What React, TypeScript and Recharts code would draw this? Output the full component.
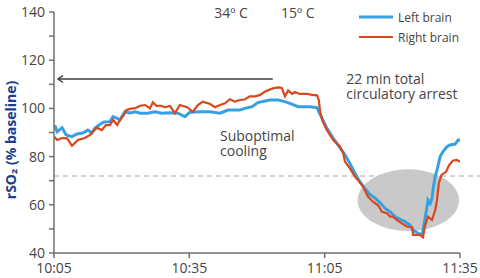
import React from 'react';
import { LineChart, Line, XAxis, YAxis, ReferenceLine, ReferenceArea, ReferenceDot, Legend } from 'recharts';

// minutes after 10:05
const xTickValues = [0, 30, 60, 90];
const xTickLabels = ['10:05', '10:35', '11:05', '11:35'];
const yTickValues = [40, 50, 60, 70, 80, 90, 100, 110, 120, 130, 140];
const yLabeledTicks = [40, 60, 80, 100, 120, 140];

const leftTimes = [
  0.2, 0.7, 1.8, 2.7, 4.0, 5.1, 6.4, 7.5, 8.4, 9.1, 10.2, 11.1, 12.4, 13.1, 14.0, 14.6, 15.7, 16.8, 18.0, 19.1,
  20.8, 22.4, 23.9, 25.7, 27.5, 29.0, 30.1, 32.4, 34.6, 36.8, 38.6, 41.2, 42.3, 43.9, 45.2, 46.8, 47.9, 49.7,
  51.2, 52.3, 54.1, 56.8, 58.3, 59.4, 60.5, 61.9, 63.4, 64.5, 65.6, 66.7, 67.8, 68.9, 70.1, 71.2, 72.3, 73.4,
  74.5, 75.6, 76.7, 77.8, 78.9, 79.6, 80.7, 81.6, 82.2, 82.7, 82.9, 83.4, 83.8, 84.0, 84.5, 84.9, 85.6, 86.2,
  87.1, 87.8, 88.9, 89.6, 90.0,
];
const leftValues = [
  93, 90.3, 92, 89, 88.3, 89.4, 89.8, 91, 89.8, 91.9, 93.4, 94.4, 94.5, 96.6, 95.9, 95.2, 98.6, 98.1, 98.6, 98,
  98, 98.6, 98, 98.2, 98, 96.6, 98.4, 98.6, 98.6, 98, 99.3, 99.3, 100, 100.7, 102.4, 103.1, 103.5, 103.5,
  102.8, 102.1, 100.7, 100.7, 100.3, 95.9, 91.7, 87.6, 83.7, 80.7, 77.2, 73.1, 69.6, 66.8, 64.2, 62.8, 60.8, 58.5,
  57.1, 55.1, 54, 53, 51.6, 49.5, 48.2, 47.5, 53.7, 59.2, 62, 60.6, 62.7, 66.1, 71.7, 74.4, 80, 82,
  84.1, 84.8, 85.2, 86.9, 86.9,
];

const rightTimes = [
  0, 0.7, 1.8, 2.9, 4.0, 5.3, 6.7, 8.0, 8.6, 9.5, 10.6, 11.5, 12.4, 13.1, 14.0, 14.4, 15.5, 16.0, 16.8, 18.0,
  19.1, 20.2, 21.3, 21.9, 22.8, 23.5, 24.6, 25.7, 26.8, 27.9, 29.5, 30.8, 31.9, 33.0, 34.6, 35.7, 36.8, 37.9,
  39.0, 40.1, 41.2, 42.3, 43.4, 44.6, 45.7, 46.8, 48.5, 49.7, 50.5, 51.2, 51.9, 52.8, 53.4, 54.5, 56.1, 57.2,
  58.3, 58.7, 59.0, 59.6, 60.5, 61.9, 63.4, 64.1, 64.5, 65.6, 66.7, 67.8, 68.5, 69.6, 70.7, 71.8, 72.7, 73.8,
  74.5, 75.1, 76.0, 77.1, 78.3, 79.4, 79.6, 81.1, 81.8, 82.2, 82.9, 83.8, 84.5, 84.9, 85.3, 85.9, 86.9, 87.6,
  88.4, 89.3, 90.0,
];
const rightValues = [
  88.3, 86.9, 87.7, 87.6, 84.5, 86.9, 87.6, 89, 90.3, 92, 91, 93.1, 93.1, 95.2, 93.1, 94.5, 97.3, 99.3, 99.8, 100.1,
  101.1, 101.4, 100, 102.5, 101, 101.2, 100.5, 101, 98, 101.4, 100.5, 98.6, 101.4, 102.8, 101.8, 100.5, 101.4, 102.1,
  103.8, 102.8, 103.5, 103.7, 105, 105, 105.6, 107, 108.3, 108.7, 108.5, 105, 107.4, 106, 106.8, 106, 106, 105.6,
  105.4, 103.5, 98.6, 94.5, 91, 86.9, 84.1, 81.4, 77.9, 75.1, 71.7, 69.3, 67.5, 63.4, 61.3, 59.9, 57.1, 56.5,
  55.1, 55.1, 53.7, 52.3, 50.9, 50.7, 47.5, 47.5, 46.5, 50.9, 55.1, 53.7, 57.8, 62, 68.9, 72.4, 73.7, 76.5,
  78.3, 78.6, 77.9,
];

const seriesNames = ['Left brain', 'Right brain'];
const seriesColors = ['#38a0e0', '#d9471d'];

const thresholdLevel = 72;
const arrowLevel = 112.2;
const arrowStart = 48.5;
const arrowEnd = 0.9;
const arrestZone = { t1: 67.3, t2: 89.8, v1: 49.1, v2: 74.7 };

// one entry per text line, anchored at its start / baseline in data units
const annotations = [
  { t: 35.5, v: 137.4, text: '34º C' },
  { t: 50.3, v: 137.4, text: '15º C' },
  { t: 64.8, v: 110, text: '22 min total' },
  { t: 64.8, v: 104, text: 'circulatory arrest' },
  { t: 36.8, v: 86.3, text: 'Suboptimal' },
  { t: 36.8, v: 80.4, text: 'cooling' },
];

const leftData = leftTimes.map((t, i) => ({ t, v: leftValues[i] }));
const rightData = rightTimes.map((t, i) => ({ t, v: rightValues[i] }));

const FONT = '"Open Sans", sans-serif';
const axisColor = '#707070';
const textColor = '#454545';

const LegendBox = () => (
  <div style={{ fontFamily: FONT, fontSize: 12, color: textColor }}>
    {seriesNames.map((name, i) => (
      <div key={name} style={{ display: 'flex', alignItems: 'center', height: 20 }}>
        <svg width={34} height={6} style={{ marginRight: 5 }}>
          <line x1={0} y1={3} x2={34} y2={3} stroke={seriesColors[i]} strokeWidth={i === 0 ? 3 : 2.2} />
        </svg>
        <span>{name}</span>
      </div>
    ))}
  </div>
);

const YLabel = (props: any) => {
  const vb = props.viewBox || { x: 0, y: 12, width: 54, height: 241 };
  const x = vb.x + 16;
  const y = vb.y + vb.height / 2 + 7.5;
  return (
    <text
      x={x}
      y={y}
      transform={`rotate(-90, ${x}, ${y})`}
      textAnchor="middle"
      fill="#1b3f8c"
      fontWeight="bold"
      fontSize={14}
      fontFamily={FONT}
    >
      rSO₂ (% baseline)
    </text>
  );
};

export default function App() {
  return (
    <div style={{ position: 'absolute', left: 0, top: 0, fontFamily: FONT }}>
      <LineChart width={480} height={278} margin={{ top: 12, right: 20, bottom: 0, left: 0 }}>
        <ReferenceArea
          x1={arrestZone.t1}
          x2={arrestZone.t2}
          y1={arrestZone.v1}
          y2={arrestZone.v2}
          ifOverflow="visible"
          shape={(p: any) => (
            <ellipse
              cx={p.x + p.width / 2}
              cy={p.y + p.height / 2}
              rx={Math.abs(p.width) / 2}
              ry={Math.abs(p.height) / 2}
              fill="#c9c9c9"
            />
          )}
        />
        <XAxis
          type="number"
          dataKey="t"
          domain={[0, 90]}
          ticks={xTickValues}
          tickFormatter={(v: number) => xTickLabels[xTickValues.indexOf(v)] ?? ''}
          allowDataOverflow
          height={25}
          tickSize={5}
          tickMargin={5}
          stroke={axisColor}
          strokeWidth={1.5}
          tick={{ fill: textColor, fontSize: 14, fontFamily: FONT }}
        />
        <YAxis
          type="number"
          domain={[40, 140]}
          ticks={yTickValues}
          tickFormatter={(v: number) => (yLabeledTicks.includes(v) ? String(v) : '')}
          width={54}
          tickSize={5}
          tickMargin={4}
          stroke={axisColor}
          strokeWidth={1.5}
          tick={{ fill: textColor, fontSize: 14, fontFamily: FONT }}
          label={<YLabel />}
        />
        <ReferenceLine
          segment={[{ x: 0, y: thresholdLevel }, { x: 94.5, y: thresholdLevel }]}
          ifOverflow="visible"
          stroke="#c4c4c4"
          strokeWidth={1.5}
          strokeDasharray="5 4"
        />
        <ReferenceLine
          segment={[{ x: arrowStart, y: arrowLevel }, { x: arrowEnd, y: arrowLevel }]}
          ifOverflow="visible"
          shape={(p: any) => (
            <g stroke="#3c3c3c" strokeWidth={1.5} fill="none">
              <line x1={p.x1} y1={p.y1} x2={p.x2} y2={p.y2} />
              <polyline points={`${p.x2 + 5},${p.y2 - 3.5} ${p.x2},${p.y2} ${p.x2 + 5},${p.y2 + 3.5}`} />
            </g>
          )}
        />
        <Line
          data={leftData}
          dataKey="v"
          name={seriesNames[0]}
          type="linear"
          stroke={seriesColors[0]}
          strokeWidth={3}
          dot={false}
          isAnimationActive={false}
        />
        <Line
          data={rightData}
          dataKey="v"
          name={seriesNames[1]}
          type="linear"
          stroke={seriesColors[1]}
          strokeWidth={2.2}
          dot={false}
          isAnimationActive={false}
        />
        {annotations.map((a) => (
          <ReferenceDot
            key={a.text}
            x={a.t}
            y={a.v}
            ifOverflow="visible"
            shape={(p: any) => (
              <text x={p.cx} y={p.cy} fill={textColor} fontSize={14} fontFamily={FONT}>
                {a.text}
              </text>
            )}
          />
        ))}
        <Legend
          layout="vertical"
          align="center"
          verticalAlign="middle"
          content={() => <LegendBox />}
          wrapperStyle={{ position: 'absolute', top: 7, left: 359, width: 120, height: 40 }}
        />
      </LineChart>
    </div>
  );
}
